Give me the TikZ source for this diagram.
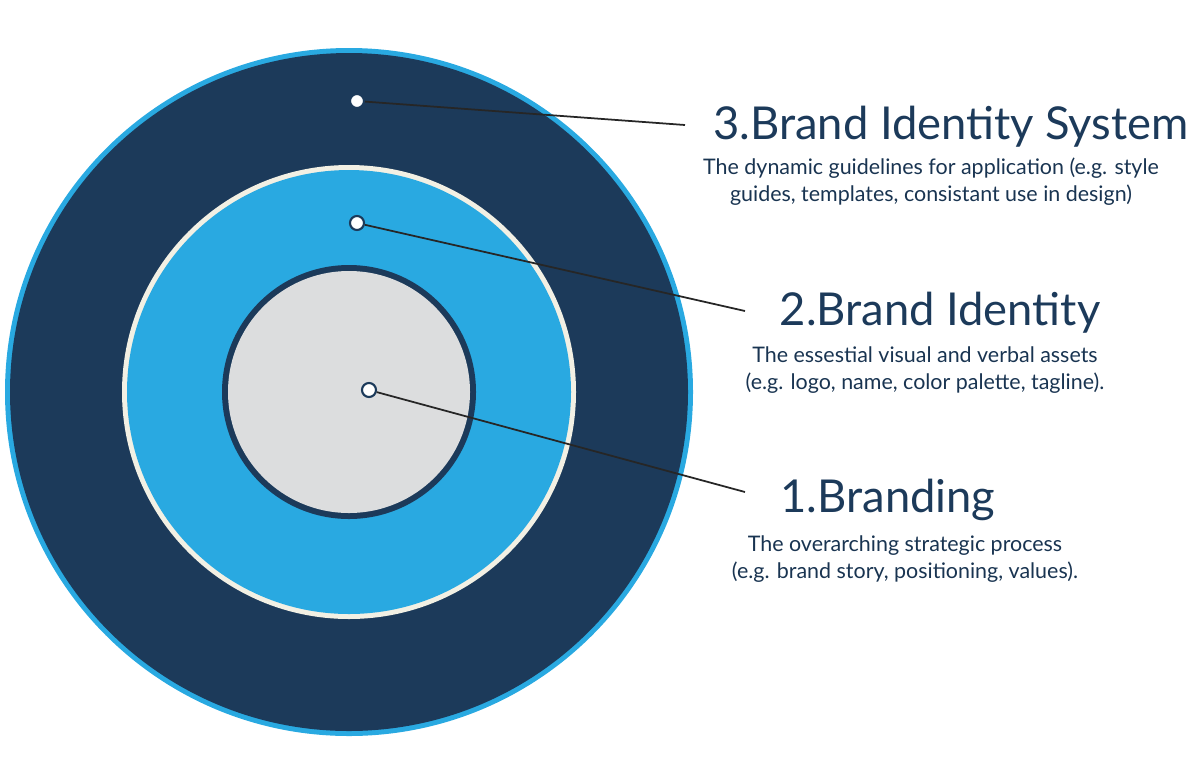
\documentclass[tikz,border=0pt]{standalone}
\usepackage{fontspec}
\setmainfont{Lato}
\definecolor{navy}{HTML}{1C3A5A}
\definecolor{skyblue}{HTML}{29A9E1}
\definecolor{cream}{HTML}{F2F0E4}
\definecolor{pale}{HTML}{DCDDDE}
\begin{document}
\begin{tikzpicture}[
  x=0.02cm, y=-0.02cm,
  dot/.style={circle, draw=navy, fill=white, line width=1.2pt, minimum size=0.28cm, inner sep=0pt},
  lead/.style={line width=1pt, black!85},
  title/.style={font=\fontsize{25.8}{30}\selectfont, text=navy},
  desc/.style={font=\fontsize{12.2}{15.5}\selectfont, text=navy!90!black, align=center},
]
\useasboundingbox (0,0) rectangle (1202,768);

% Rings
\fill[skyblue] (349,392) circle (344);
\fill[navy] (349,392) circle (339);
\fill[cream] (349,392) circle (227);
\fill[skyblue] (349,392) circle (222);
\fill[navy] (349,392) circle (127);
\fill[pale] (349,392) circle (121);

% Markers
\node[dot] (d3) at (357,101) {};
\node[dot] (d2) at (357,223) {};
\node[dot] (d1) at (369,390) {};
\coordinate (e3) at (685,125);
\coordinate (e2) at (745,311);
\coordinate (e1) at (745,492);
\draw[lead] (d3) -- (e3);
\draw[lead] (d2) -- (e2);
\draw[lead] (d1) -- (e1);

% Labels
\node[title] (t3) at (951,127) {3.Brand Identity System};
\node[desc] (s3) at (931,182) {The dynamic guidelines for application (e.g. style\\guides, templates, consistant use in design)};
\node[title] (t2) at (940,313) {2.Brand Identity};
\node[desc] (s2) at (925,370) {The essestial visual and verbal assets\\(e.g. logo, name, color palette, tagline).};
\node[title] (t1) at (888,500) {1.Branding};
\node[desc] (s1) at (905,559) {The overarching strategic process\\(e.g. brand story, positioning, values).};
\end{tikzpicture}
\end{document}
